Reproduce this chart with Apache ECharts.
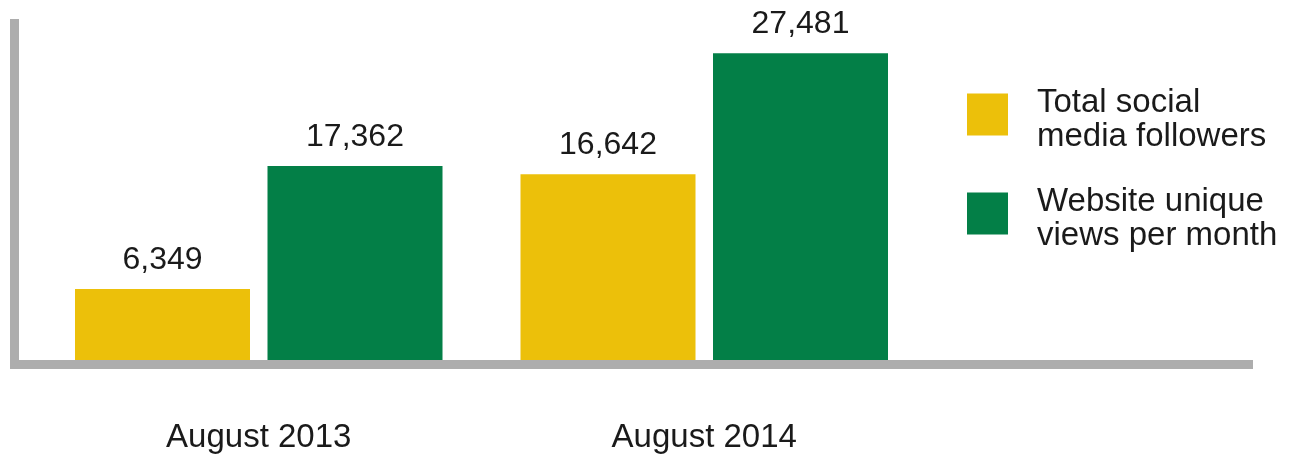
<!DOCTYPE html>
<html>
<head>
<meta charset="utf-8">
<script src="https://cdn.jsdelivr.net/npm/echarts@6/dist/echarts.min.js"></script>
<style>
html,body{margin:0;padding:0;background:#fff;}
#c{width:1294px;height:455px;}
</style>
</head>
<body>
<div id="c"></div>
<script>
var categories = ['August 2013', 'August 2014'];
var socialFollowers = [6349, 16642];
var uniqueViews = [17362, 27481];
var seriesNames = ['Total social\nmedia followers', 'Website unique\nviews per month'];

var FONT = 'Liberation Sans, Arial, Helvetica, sans-serif';
var chart = echarts.init(document.getElementById('c'), null, {renderer: 'canvas'});
function fmt(p) { return p.value.toLocaleString('en-US'); }
var labelCfg = {
  show: true, position: 'top', distance: 13,
  formatter: fmt, color: '#1a1a1a', fontSize: 32, fontFamily: FONT
};
chart.setOption({
  animation: false,
  backgroundColor: '#ffffff',
  grid: [
    {left: 36, width: 891, top: 25, height: 335},
    {left: 14.5, right: 45.5, top: 23.5, bottom: 90.5}
  ],
  legend: {
    orient: 'vertical', left: 967, top: 76, padding: 0,
    itemWidth: 41, itemHeight: 42, itemGap: 22,
    icon: 'rect',
    formatter: function (name) {
      return name.split('\n').map(function (s) { return '{t|' + s + '}'; }).join('\n');
    },
    textStyle: {
      fontSize: 33, lineHeight: 34, fontFamily: FONT, color: '#1a1a1a', padding: [0, 0, 0, 24],
      rich: {t: {fontSize: 33, lineHeight: 34, fontFamily: FONT, color: '#1a1a1a', padding: [10, 0, 0, 0]}}
    },
    data: seriesNames
  },
  xAxis: [
    {type: 'category', gridIndex: 0, data: categories,
     axisLine: {show: false}, axisTick: {show: false},
     axisLabel: {margin: 61, fontSize: 33, fontFamily: FONT, color: '#1a1a1a'}},
    {type: 'value', gridIndex: 1, min: 0, max: 1,
     axisLine: {show: true, onZero: false, lineStyle: {color: '#adadad', width: 9, cap: 'square'}},
     axisTick: {show: false}, axisLabel: {show: false}, splitLine: {show: false}}
  ],
  yAxis: [
    {type: 'value', gridIndex: 0, min: 0, max: 30000, show: false, splitLine: {show: false}},
    {type: 'value', gridIndex: 1, min: 0, max: 1,
     axisLine: {show: true, onZero: false, lineStyle: {color: '#adadad', width: 9, cap: 'square'}},
     axisTick: {show: false}, axisLabel: {show: false}, splitLine: {show: false}}
  ],
  series: [
    {name: seriesNames[0], type: 'bar', xAxisIndex: 0, yAxisIndex: 0,
     data: socialFollowers, barWidth: 175, barGap: '10%',
     itemStyle: {color: '#ecc00a'}, label: labelCfg},
    {name: seriesNames[1], type: 'bar', xAxisIndex: 0, yAxisIndex: 0,
     data: uniqueViews, barWidth: 175, barGap: '10%',
     itemStyle: {color: '#037f47'}, label: labelCfg}
  ]
});
</script>
</body>
</html>
